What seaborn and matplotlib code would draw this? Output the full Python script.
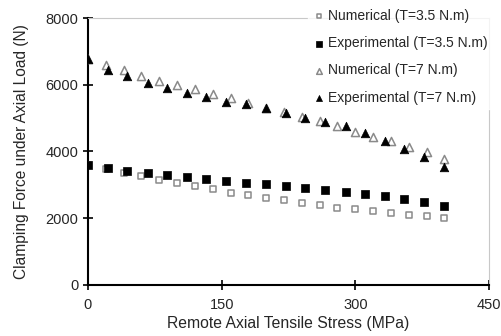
import numpy as np
import pandas as pd
import matplotlib
matplotlib.use('Agg')
import matplotlib.pyplot as plt
import seaborn as sns

# values
stress_num = [0, 20, 40, 60, 80, 100, 120, 140, 160, 180, 200,
              220, 240, 260, 280, 300, 320, 340, 360, 380, 400]
stress_exp = [0, 22, 44, 67, 89, 111, 133, 155, 177, 200,
              222, 244, 266, 289, 311, 333, 355, 377, 400]

num_35 = [3595, 3466, 3363, 3264, 3153, 3045, 2955, 2865, 2754, 2685, 2595,
          2535, 2462, 2393, 2312, 2264, 2213, 2144, 2102, 2054, 2012]
exp_35 = [3595, 3495, 3414, 3363, 3294, 3243, 3174, 3105, 3063, 3024,
          2955, 2904, 2844, 2793, 2724, 2670, 2568, 2478, 2372]
num_7 = [6760, 6598, 6432, 6267, 6123, 5991, 5862, 5727, 5613, 5456, 5306,
         5192, 5042, 4901, 4766, 4595, 4444, 4306, 4144, 3994, 3775]
exp_7 = [6763, 6432, 6267, 6063, 5901, 5766, 5631, 5495, 5417, 5297,
         5162, 5015, 4895, 4760, 4547, 4315, 4084, 3826, 3525]

sns.set_style('white')
plt.rcParams['font.family'] = ['Liberation Sans', 'DejaVu Sans']

fig = plt.figure(figsize=(5.01, 3.36), dpi=100)
ax = fig.add_axes([0.1756, 0.152, 0.8004, 0.7944])

grey = '#8a8a8a'
sns.scatterplot(x=stress_num, y=num_35, ax=ax, marker='s', s=24,
                facecolor='white', edgecolor=grey, linewidth=1.1,
                label='Numerical (T=3.5 N.m)', zorder=3)
sns.scatterplot(x=stress_exp, y=exp_35, ax=ax, marker='s', s=28,
                color='black', edgecolor='black', linewidth=0.5,
                label='Experimental (T=3.5 N.m)', zorder=4)
sns.scatterplot(x=stress_num, y=num_7, ax=ax, marker='^', s=34,
                facecolor='white', edgecolor=grey, linewidth=1.1,
                label='Numerical (T=7 N.m)', zorder=3)
sns.scatterplot(x=stress_exp, y=exp_7, ax=ax, marker='^', s=38,
                color='black', edgecolor='black', linewidth=0.5,
                label='Experimental (T=7 N.m)', zorder=4)

ax.set_xlim(0, 450)
ax.set_ylim(0, 8000)
ax.set_xticks([0, 150, 300, 450])
ax.set_yticks([0, 2000, 4000, 6000, 8000])
ax.tick_params(axis='both', labelsize=10.5, direction='inout', length=7,
               width=1.2, color='black', left=True, bottom=True)
ax.tick_params(axis='x', pad=6)

for side in ['left', 'bottom']:
    ax.spines[side].set_color('black')
    ax.spines[side].set_linewidth(1.5)
for side in ['top', 'right']:
    ax.spines[side].set_color('#c8c8c8')
    ax.spines[side].set_linewidth(0.8)

ax.set_xlabel('Remote Axial Tensile Stress (MPa)', fontsize=11.3, labelpad=3)
ax.set_ylabel('Clamping Force under Axial Load (N)', fontsize=11.2, labelpad=12)

leg = ax.legend(loc='upper left', bbox_to_anchor=(0.600, 1.006),
                bbox_transform=fig.transFigure, frameon=True, fontsize=10,
                markerscale=0.7, labelspacing=0.95, handletextpad=0.2,
                handlelength=1.0, borderpad=0.3, fancybox=False)
leg.get_frame().set_facecolor('white')
leg.get_frame().set_edgecolor('white')
leg.set_zorder(10)

fig.savefig('out.png', dpi=100)
